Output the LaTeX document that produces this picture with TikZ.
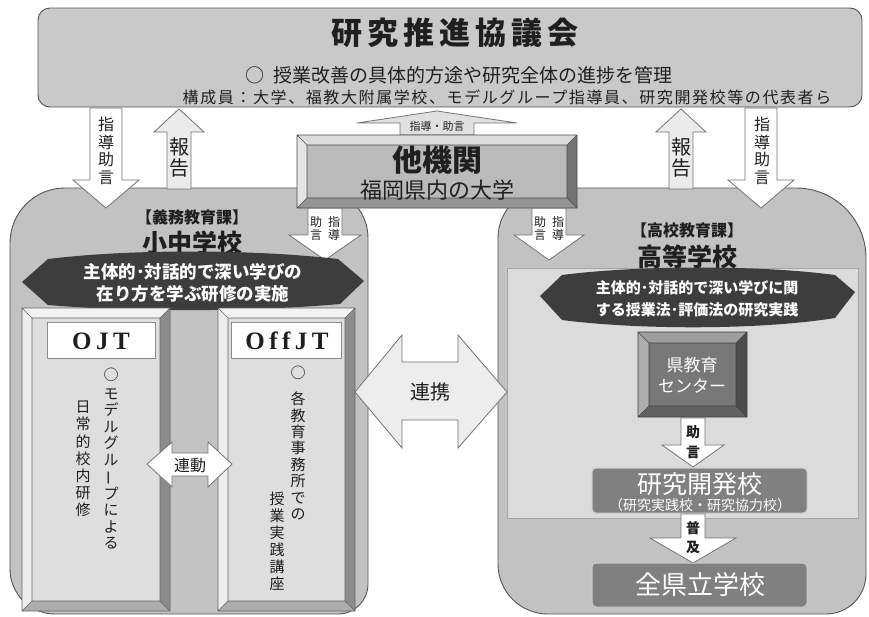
\documentclass[tikz,border=0pt]{standalone}
\usepackage{fontspec}
\usepackage{graphicx}
\newfontfamily\jp{Noto Sans CJK JP}
\newfontfamily\lser{Liberation Serif}
\newcommand\myfs[2]{\fontsize{#1}{#2}\selectfont}
\newcommand\vbar{\rotatebox[origin=c]{90}{ー}}
\definecolor{topgray}{gray}{0.79}
\definecolor{boxgray}{gray}{0.76}
\definecolor{innergray}{gray}{0.86}
\definecolor{bannergray}{gray}{0.24}
\definecolor{edgegray}{gray}{0.33}
\definecolor{txtdark}{gray}{0.12}
% bevel colours: I inner, T top, L left, R right, B bottom, E edge
\definecolor{ojtI}{gray}{0.87}\definecolor{ojtT}{gray}{0.95}\definecolor{ojtL}{gray}{0.93}
\definecolor{ojtR}{gray}{0.55}\definecolor{ojtB}{gray}{0.68}\definecolor{ojtE}{gray}{0.40}
\definecolor{takI}{gray}{0.73}\definecolor{takT}{gray}{0.86}\definecolor{takL}{gray}{0.90}
\definecolor{takR}{gray}{0.45}\definecolor{takB}{gray}{0.58}\definecolor{takE}{gray}{0.30}
\definecolor{cenI}{gray}{0.47}\definecolor{cenT}{gray}{0.62}\definecolor{cenL}{gray}{0.68}
\definecolor{cenR}{gray}{0.30}\definecolor{cenB}{gray}{0.38}\definecolor{cenE}{gray}{0.25}
% #1 x1 #2 y1 #3 x2 #4 y2 #5 bevel #6 colour prefix
\newcommand\bevbox[6]{%
  \fill[#6T] (#1,#2) -- (#3,#2) -- ({#3-#5},{#2+#5}) -- ({#1+#5},{#2+#5}) -- cycle;
  \fill[#6B] (#1,#4) -- (#3,#4) -- ({#3-#5},{#4-#5}) -- ({#1+#5},{#4-#5}) -- cycle;
  \fill[#6L] (#1,#2) -- ({#1+#5},{#2+#5}) -- ({#1+#5},{#4-#5}) -- (#1,#4) -- cycle;
  \fill[#6R] (#3,#2) -- ({#3-#5},{#2+#5}) -- ({#3-#5},{#4-#5}) -- (#3,#4) -- cycle;
  \fill[#6I] ({#1+#5},{#2+#5}) rectangle ({#3-#5},{#4-#5});
  \draw[#6E, line width=0.6pt] (#1,#2) rectangle (#3,#4)
     ({#1+#5},{#2+#5}) rectangle ({#3-#5},{#4-#5})
     (#1,#2) -- ({#1+#5},{#2+#5}) (#3,#2) -- ({#3-#5},{#2+#5})
     (#1,#4) -- ({#1+#5},{#4-#5}) (#3,#4) -- ({#3-#5},{#4-#5});
}
% #1 cx #2 shaft end #3 head base #4 tip #5 shaft half #6 head half #7 fill
\newcommand\blockarrow[7]{%
  \filldraw[barrow, fill=#7] ({#1-#5},#2) -- ({#1-#5},#3) -- ({#1-#6},#3) -- (#1,#4)
    -- ({#1+#6},#3) -- ({#1+#5},#3) -- ({#1+#5},#2) -- cycle;
}
\begin{document}
\begin{tikzpicture}[x=1pt,y=-1pt,
  boxline/.style={draw=edgegray, line width=0.9pt},
  barrow/.style={draw=black!55, line width=0.8pt},
  lbl/.style={inner sep=0pt, outer sep=0pt, text=txtdark},
  vcol/.style={inner sep=0pt, outer sep=0pt, align=center, text=txtdark},
]
\useasboundingbox (0,0) rectangle (869,616);
\fill[white] (0,0) rectangle (869,616);

% ---------- top council box ----------
\draw[boxline, fill=topgray, rounded corners=12] (38,8) rectangle (862,107);
\node[lbl, font=\jp\bfseries\myfs{31}{31}\addfontfeature{LetterSpace=16}] (council) at (455,33) {研究推進協議会};
\node[lbl, font=\jp\myfs{19}{19}] (aim) at (459,75) {○\hspace{9pt}授業改善の具体的方途や研究全体の進捗を管理};
\node[lbl, font=\jp\myfs{16}{16}\addfontfeature{LetterSpace=10}] (members) at (507,97) {構成員：大学、福教大附属学校、モデルグループ指導員、研究開発校等の代表者ら};

% ---------- left and right big boxes ----------
\draw[boxline, fill=boxgray] (10,243) arc[start angle=180, end angle=270, radius=55]
  -- (318,188) arc[start angle=270, end angle=360, radius=50]
  -- (368,584) arc[start angle=0, end angle=90, radius=30]
  -- (55,614) arc[start angle=90, end angle=180, radius=45] -- cycle;
\draw[boxline, fill=boxgray] (498,238) arc[start angle=180, end angle=270, radius=50]
  -- (796,188) arc[start angle=270, end angle=360, radius=70]
  -- (866,574) arc[start angle=0, end angle=90, radius=40]
  -- (548,614) arc[start angle=90, end angle=180, radius=50] -- cycle;
\draw[draw=black!35, line width=0.5pt, fill=innergray] (507,268) rectangle (858,518);

% ---------- arrows between council and schools ----------
\blockarrow{106}{108}{180}{208}{16}{33}{white}
\node[vcol, font=\jp\myfs{16}{17.7}] (lguide) at (106,151) {指\\導\\助\\言};
\blockarrow{179}{189}{132}{109}{12}{25}{black!8}
\node[vcol, font=\jp\myfs{20}{21}] (lreport) at (179,157) {報\\告};
\blockarrow{681}{189}{132}{109}{12}{25}{black!8}
\node[vcol, font=\jp\myfs{20}{21}] (rreport) at (681,157) {報\\告};
\blockarrow{761}{108}{180}{208}{16}{33}{white}
\node[vcol, font=\jp\myfs{16}{17.7}] (rguide) at (762,151) {指\\導\\助\\言};

% ---------- small arrows from other institutions ----------
\blockarrow{325}{208}{235}{260}{17}{36}{white}
\node[vcol, font=\jp\myfs{12}{13}] (lsa) at (316,228) {助\\言};
\node[vcol, font=\jp\myfs{12}{13}] (lsb) at (334,228) {指\\導};
\blockarrow{549}{208}{235}{260}{17}{35}{white}
\node[vcol, font=\jp\myfs{12}{13}] (rsa) at (540,228) {助\\言};
\node[vcol, font=\jp\myfs{12}{13}] (rsb) at (558,228) {指\\導};

% ---------- titles of the school boxes ----------
\node[lbl, font=\jp\bfseries\myfs{16}{16}] (ldept) at (192,217) {【義務教育課】};
\node[lbl, font=\jp\bfseries\myfs{25}{25}] (lschool) at (192,243) {小中学校};
\node[lbl, font=\jp\bfseries\myfs{16}{16}] (rdept) at (687,230) {【高校教育課】};
\node[lbl, font=\jp\bfseries\myfs{25}{25}] (rschool) at (687,257) {高等学校};

% ---------- dark banners ----------
\fill[bannergray] (22,282) -- (48,259) .. controls (130,249) and (250,249) .. (338,259)
  -- (364,281) -- (340,304) .. controls (250,312) and (130,312) .. (48,305) -- cycle;
\node[align=center, inner sep=0pt, text=white, font=\jp\bfseries\myfs{17.5}{22}] (lbanner) at (193,283)
  {主体的･対話的で深い学びの\\在り方を学ぶ研修の実施};
\fill[bannergray] (540,296) -- (562,275) .. controls (640,265) and (760,265) .. (835,275)
  -- (855,292) -- (835,318) .. controls (760,330) and (640,330) .. (562,320) -- cycle;
\node[align=center, inner sep=0pt, text=white, font=\jp\bfseries\myfs{15}{22}] (rbanner) at (697,299)
  {主体的･対話的で深い学びに関\\する授業法･評価法の研究実践};

% ---------- other institutions ----------
\blockarrow{437}{135}{123}{111}{37}{80}{black!12}
\node[lbl, font=\jp\myfs{11}{11}] (upguide) at (437,126) {指導・助言};
\bevbox{297}{135}{577}{208}{10}{tak}
\node[lbl, font=\jp\bfseries\myfs{30}{30}] (other) at (437,160) {他機関};
\node[lbl, font=\jp\myfs{22}{22}] (univ) at (437,190) {福岡県内の大学};

% ---------- OJT / OffJT panels ----------
\bevbox{22}{308}{170}{611}{10}{ojt}
\draw[fill=white, draw=black!45, line width=0.6pt] (47,322) rectangle (155,358);
\node[lbl, font=\lser\bfseries\myfs{25}{25}\addfontfeature{LetterSpace=18}] (ojt) at (101,341) {OJT};
\node[lbl, font=\jp\myfs{15}{15}] (ojtmark) at (111,375) {○};
\node[vcol, font=\jp\myfs{15}{16.4}] (ojtcolA) at (111,469) {モ\\デ\\ル\\グ\\ル\\\vbar\\プ\\に\\よ\\る};
\node[vcol, font=\jp\myfs{15}{17.1}] (ojtcolB) at (83,459) {日\\常\\的\\校\\内\\研\\修};

\bevbox{218}{308}{355}{611}{10}{ojt}
\draw[fill=white, draw=black!45, line width=0.6pt] (231,322) rectangle (341,358);
\node[lbl, font=\lser\bfseries\myfs{25}{25}\addfontfeature{LetterSpace=18}] (offjt) at (287,341) {OffJT};
\node[lbl, font=\jp\myfs{15}{15}] (offmark) at (298,373) {○};
\node[vcol, font=\jp\myfs{15}{16.4}] (offcolA) at (298,456) {各\\教\\育\\事\\務\\所\\で\\の};
\node[vcol, font=\jp\myfs{15}{17}] (offcolB) at (277,541) {授\\業\\実\\践\\講\\座};

% ---------- double arrows ----------
\filldraw[barrow, fill=white] (147,464) -- (172,442) -- (172,453) -- (208,453) -- (208,442)
  -- (232,464) -- (208,487) -- (208,476) -- (172,476) -- (172,487) -- cycle;
\node[lbl, font=\jp\myfs{16}{16}] (rendo) at (190,465) {連動};
\filldraw[barrow, fill=black!7] (355,392) -- (402,335) -- (402,362) -- (458,362) -- (458,335)
  -- (507,392) -- (458,448) -- (458,420) -- (402,420) -- (402,448) -- cycle;
\node[lbl, font=\jp\myfs{20}{20}] (renkei) at (430,392) {連携};

% ---------- high school column ----------
\bevbox{638}{332}{747}{417}{11}{cen}
\node[align=center, inner sep=0pt, text=white, font=\jp\myfs{17}{21}] (center) at (692,375) {県教育\\センター};
\blockarrow{693}{418}{445}{467}{12}{31}{white}
\node[vcol, font=\jp\bfseries\myfs{14}{20}] (advice) at (693,442) {助\\言};
\draw[fill=black!50, draw=black!20, line width=1pt, rounded corners=4] (592,468) rectangle (807,513);
\node[lbl, text=white, font=\jp\myfs{25}{25}] (devsch) at (700,484) {研究開発校};
\node[lbl, text=white, font=\jp\myfs{14}{14}] (devsub) at (700,505) {（研究実践校・研究協力校）};
\blockarrow{693}{514}{538}{563}{12}{43}{white}
\node[vcol, font=\jp\bfseries\myfs{14}{19}] (spread) at (693,538) {普\\及};
\draw[fill=black!50, draw=black!20, line width=1pt, rounded corners=4] (592,563) rectangle (807,607);
\node[lbl, text=white, font=\jp\myfs{26}{26}] (allsch) at (700,585) {全県立学校};
\end{tikzpicture}
\end{document}
